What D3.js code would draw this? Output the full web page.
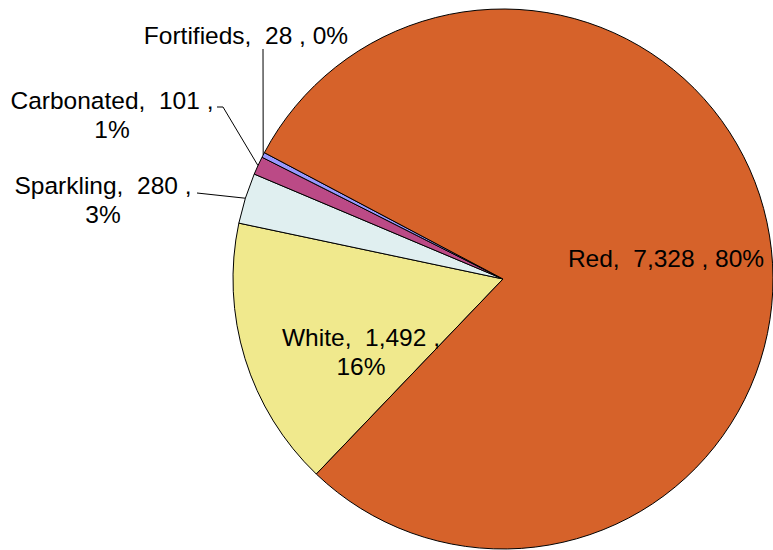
<!DOCTYPE html>
<html>
<head>
<meta charset="utf-8">
<script src="https://cdn.jsdelivr.net/npm/d3@7"></script>
<style>
  html, body { margin: 0; padding: 0; background: #fff; }
  svg { display: block; }
  text { font-family: "Liberation Sans", Arial, sans-serif; fill: #000; white-space: pre; }
</style>
</head>
<body>
<svg id="chart" width="773" height="550"></svg>
<script>
// ---- data ----
const categories = ["Red", "White", "Sparkling", "Carbonated", "Fortifieds"];
const values = [7328, 1492, 280, 101, 28];
const valueLabels = ["7,328", "1,492", "280", "101", "28"];
const percentLabels = ["80%", "16%", "3%", "1%", "0%"];
const colors = ["#D6622A", "#F0E98D", "#E0EFF0", "#BB4A86", "#9999FF"];

// ---- layout ----
const W = 773, H = 550;
const cx = 503, cy = 279, R = 270;
const fontSize = 24.5;
const startDeg = -62.1;

// label layout: inside labels use (dx,dy) from center; outside labels use absolute anchor + leader
const labelLayout = {
  Red:        { type: "in",  lines: 1, x: 666, y: 267 },
  White:      { type: "in",  lines: 2, x: 361, y: 346 },
  Sparkling:  { type: "out", lines: 2, x: 103, y: 194, lead: [[197, 193]] },
  Carbonated: { type: "out", lines: 2, x: 112, y: 109, lead: [[223, 107], [217, 107]] },
  Fortifieds: { type: "out", lines: 1, x: 246, y: 44,  lead: [[263, 49]] }
};

const svg = d3.select("#chart");
const g = svg.append("g").attr("transform", `translate(${cx},${cy})`);

const pie = d3.pie().sort(null).value(d => d.value)
  .startAngle(startDeg * Math.PI / 180)
  .endAngle(startDeg * Math.PI / 180 + 2 * Math.PI);

const data = categories.map((c, i) => ({
  name: c, value: values[i], vlab: valueLabels[i], plab: percentLabels[i], color: colors[i]
}));
const arcs = pie(data);
const arc = d3.arc().innerRadius(0).outerRadius(R);

function drawSlice(a) {
  g.append("path")
    .attr("d", arc(a))
    .attr("fill", a.data.color)
    .attr("stroke", "#000")
    .attr("stroke-width", 1)
    .attr("stroke-linejoin", "round");
}

function drawLabel(a) {
  const L = labelLayout[a.data.name];
  const line1 = L.lines === 1
    ? `${a.data.name},  ${a.data.vlab} , ${a.data.plab}`
    : `${a.data.name},  ${a.data.vlab} ,`;
  if (L.type === "out") {
    const mid = (a.startAngle + a.endAngle) / 2;
    const p0 = [cx + R * Math.sin(mid), cy - R * Math.cos(mid)];
    const pts = [p0].concat(L.lead);
    svg.append("path")
      .attr("d", d3.line()(pts))
      .attr("fill", "none")
      .attr("stroke", "#000")
      .attr("stroke-width", 1);
  }
  const t = svg.append("text")
    .attr("text-anchor", "middle")
    .attr("font-size", fontSize);
  t.append("tspan").attr("x", L.x).attr("y", L.y).text(line1);
  if (L.lines === 2) {
    t.append("tspan").attr("x", L.x).attr("y", L.y + 29).text(a.data.plab);
  }
}

// draw non-red slices, then their labels, then red slice on top (matches clipping of White label)
arcs.slice(1).forEach(drawSlice);
arcs.slice(1).forEach(drawLabel);
drawSlice(arcs[0]);
drawLabel(arcs[0]);
</script>
</body>
</html>
